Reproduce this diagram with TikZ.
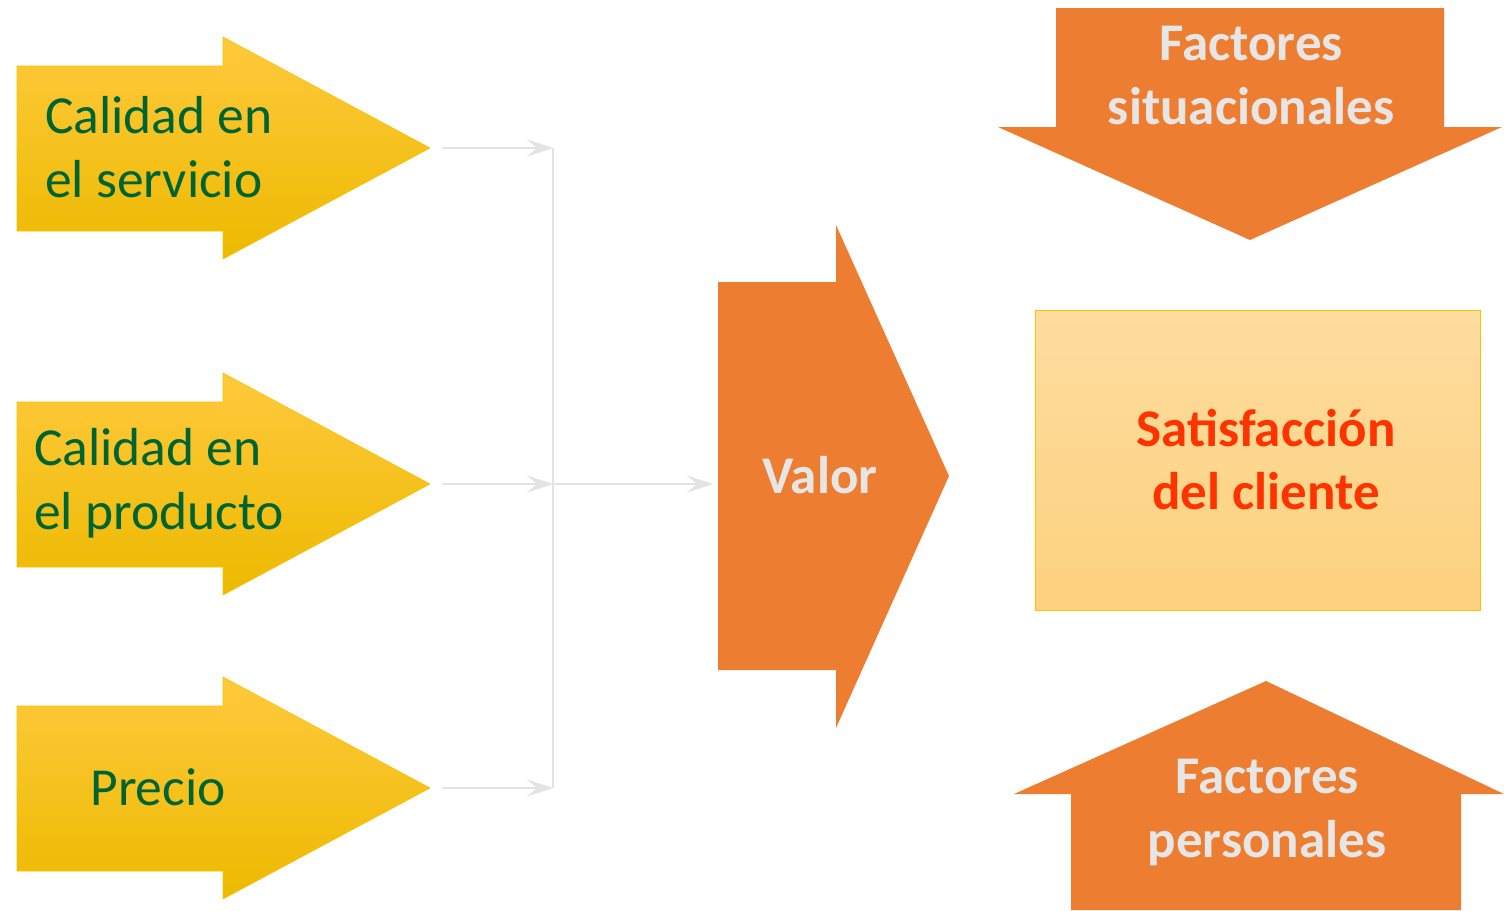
\documentclass[tikz,border=0pt]{standalone}
\usepackage{fontspec}
\setmainfont{Carlito}
\usetikzlibrary{arrows.meta}
\definecolor{ygTop}{HTML}{FFC93C}
\definecolor{ygMid}{HTML}{FFC600}
\definecolor{ygBot}{HTML}{ECBA00}
\definecolor{ygEdge}{HTML}{FFC000}
\definecolor{txgreen}{HTML}{006432}
\definecolor{orangeA}{HTML}{ED7D31}
\definecolor{lightTx}{HTML}{E7E6E6}
\definecolor{connC}{HTML}{E3E3E3}
\definecolor{boxTop}{HTML}{FDDC9E}
\definecolor{boxBot}{HTML}{FDD27F}
\definecolor{redTx}{HTML}{FF3300}
\tikzset{
  yarrow/.style={draw=ygEdge, line width=0.6pt, top color=ygTop, middle color=ygMid, bottom color=ygBot},
  oarrow/.style={fill=orangeA, draw=none},
  gtext/.style={text=txgreen, font=\fontsize{53.5}{64}\selectfont, align=left, inner sep=0pt},
  wtext/.style={text=lightTx, font=\bfseries\fontsize{53}{64}\selectfont, align=center, inner sep=0pt},
  rtext/.style={text=redTx, font=\bfseries\fontsize{53}{63}\selectfont, align=center, inner sep=0pt},
  conn/.style={draw=connC, line width=2.8pt},
  connarrow/.style={conn, -{Stealth[length=26pt,width=17pt,inset=10pt]}},
}
\begin{document}
\begin{tikzpicture}[x=1pt,y=-1pt]
\useasboundingbox (0,0) rectangle (1504,910);
% yellow arrows
\path[yarrow] (17,66) -- (223,66) -- (223,37) -- (430,148) -- (223,259) -- (223,231) -- (17,231) -- cycle;
\path[yarrow] (17,402) -- (223,402) -- (223,373) -- (430,484) -- (223,595) -- (223,567) -- (17,567) -- cycle;
\path[yarrow] (17,706) -- (223,706) -- (223,677) -- (430,788) -- (223,899) -- (223,871) -- (17,871) -- cycle;
\node[gtext, anchor=west] (servicio) at (45,147) {Calidad en\\el servicio};
\node[gtext, anchor=west] (producto) at (34,483) {Calidad en\\el producto};
\node[gtext] (precio) at (158,787) {Precio};
% Valor arrow
\path[oarrow] (718,282) -- (836,282) -- (836,225) -- (949,476) -- (836,728) -- (836,670) -- (718,670) -- cycle;
\node[wtext] (valor) at (820,475) {Valor};
% Factores situacionales (down)
\path[oarrow] (1056,8) -- (1444,8) -- (1444,127) -- (1502,127) -- (1250,240) -- (998,127) -- (1056,127) -- cycle;
\node[wtext] (situ) at (1251,76) {Factores\\situacionales};
% Factores personales (up)
\path[oarrow] (1266,681) -- (1504,794) -- (1461,794) -- (1461,910) -- (1071,910) -- (1071,794) -- (1014,794) -- cycle;
\node[wtext] (pers) at (1267,812) {Factores\\personales};
% Satisfaccion box
\path[draw=ygEdge, line width=1pt, top color=boxTop, bottom color=boxBot] (1035,310) rectangle (1480,610);
\node[rtext] (satis) at (1266,460) {Satisfacción\\del cliente};
% connectors
\coordinate (s1) at (442,148);
\coordinate (s2) at (442,484);
\coordinate (s3) at (442,788);
\coordinate (j1) at (553,148);
\coordinate (j2) at (553,484);
\coordinate (j3) at (553,788);
\coordinate (vin) at (713,484);
\draw[conn] (j1) -- (j3);
\draw[connarrow] (s1) -- (j1);
\draw[connarrow] (s2) -- (j2);
\draw[connarrow] (s3) -- (j3);
\draw[connarrow] (j2) -- (vin);
\end{tikzpicture}
\end{document}
